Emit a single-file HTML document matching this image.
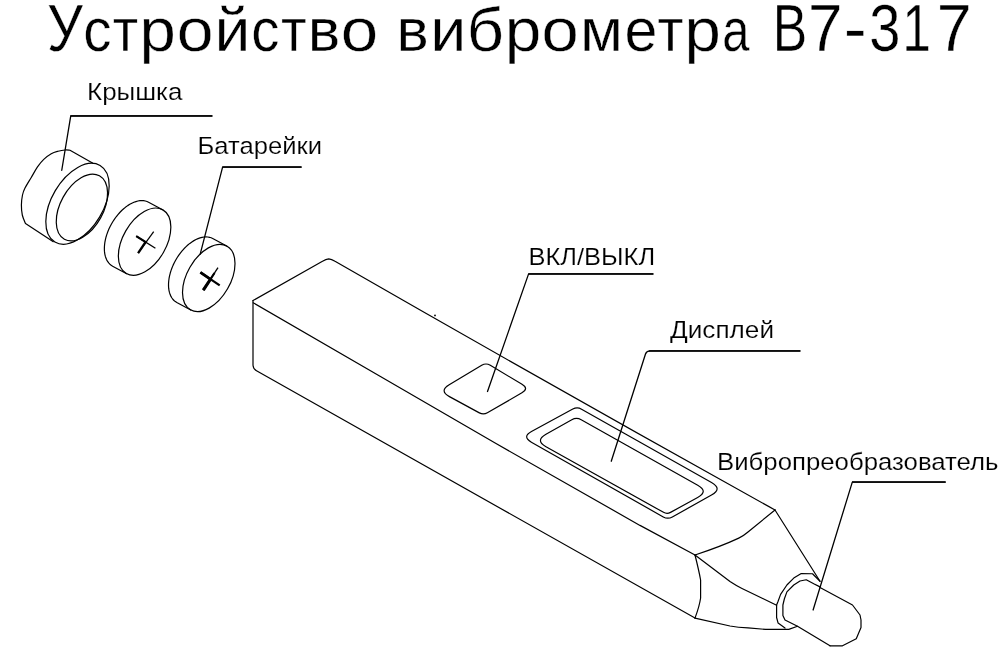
<!DOCTYPE html>
<html lang="ru">
<head>
<meta charset="utf-8">
<title>Устройство виброметра В7-317</title>
<style>
html,body{margin:0;padding:0;background:#fff;}
body{width:1008px;height:672px;overflow:hidden;font-family:"Liberation Sans",sans-serif;}
svg{display:block;will-change:transform;}
svg text{font-family:"Liberation Sans",sans-serif;fill:#000;}
</style>
</head>
<body>
<svg width="1008" height="672" viewBox="0 0 1008 672">
<rect x="0" y="0" width="1008" height="672" fill="#fff"/>
<g fill="none" stroke="#000" stroke-width="1.2" stroke-linecap="round" stroke-linejoin="round">
<!-- lid -->
<ellipse cx="77.50" cy="203.75" rx="44.40" ry="25.80" transform="rotate(-59.40 77.50 203.75)" stroke-width="1.2"/>
<path d="M92.5,163.1 L70,150.25 C69.17,150.21 66.98,149.83 65.00,150.00 C63.02,150.17 60.39,150.62 58.10,151.25 C55.81,151.88 53.64,152.39 51.25,153.75 C48.86,155.11 46.04,157.21 43.75,159.40 C41.46,161.59 39.58,163.88 37.50,166.90 C35.42,169.92 33.33,173.97 31.25,177.50 C29.17,181.03 26.46,185.18 25.00,188.10 C23.54,191.02 23.10,192.18 22.50,195.00 C21.90,197.82 21.43,201.67 21.40,205.00 C21.37,208.33 21.62,211.90 22.30,215.00 C22.98,218.10 24.97,222.17 25.50,223.60 L53.3,241.7"/>
<ellipse cx="81.90" cy="207.50" rx="36.20" ry="21.40" transform="rotate(-61.00 81.90 207.50)" stroke-width="1.2"/>
<!-- battery 1 -->
<ellipse cx="144.60" cy="241.70" rx="36.70" ry="21.70" transform="rotate(-60.10 144.60 241.70)" stroke-width="1.2"/>
<path d="M126.64,273.70 L112.64,266.20 L111.20,265.30 L109.87,264.20 L108.67,262.93 L107.61,261.47 L106.69,259.84 L105.91,258.06 L105.29,256.13 L104.83,254.07 L104.52,251.88 L104.37,249.58 L104.39,247.19 L104.57,244.72 L104.90,242.18 L105.40,239.60 L106.05,236.98 L106.85,234.34 L107.80,231.70 L108.89,229.08 L110.12,226.49 L111.47,223.95 L112.93,221.47 L114.51,219.07 L116.19,216.76 L117.95,214.56 L119.79,212.48 L121.70,210.54 L123.67,208.74 L125.68,207.10 L127.71,205.62 L129.77,204.32 L131.83,203.21 L133.88,202.28 L135.91,201.56 L137.91,201.03 L139.87,200.71 L141.77,200.60 L143.59,200.69 L145.34,200.99 L147.00,201.49 L148.56,202.20 L162.56,209.70" stroke-width="1.2"/>
<g stroke-linecap="butt">
<path d="M153.7,231.6 L138.1,253.1" stroke-width="1.25"/>
<path d="M145.6,242.0 L138.1,253.1" stroke-width="2.3"/>
<path d="M136.2,236.1 L155.4,248.3" stroke-width="1.25"/>
<path d="M136.2,236.1 L146.2,242.4" stroke-width="2.2"/>
</g>
<!-- battery 2 -->
<ellipse cx="208.75" cy="278.00" rx="36.70" ry="21.70" transform="rotate(-60.10 208.75 278.00)" stroke-width="1.2"/>
<path d="M190.79,310.00 L176.79,302.50 L175.35,301.60 L174.02,300.50 L172.82,299.23 L171.76,297.77 L170.84,296.14 L170.06,294.36 L169.44,292.43 L168.98,290.37 L168.67,288.18 L168.52,285.88 L168.54,283.49 L168.72,281.02 L169.05,278.48 L169.55,275.90 L170.20,273.28 L171.00,270.64 L171.95,268.00 L173.04,265.38 L174.27,262.79 L175.62,260.25 L177.08,257.77 L178.66,255.37 L180.34,253.06 L182.10,250.86 L183.94,248.78 L185.85,246.84 L187.82,245.04 L189.83,243.40 L191.86,241.92 L193.92,240.62 L195.98,239.51 L198.03,238.58 L200.06,237.86 L202.06,237.33 L204.02,237.01 L205.92,236.90 L207.74,236.99 L209.49,237.29 L211.15,237.79 L212.71,238.50 L226.71,246.00" stroke-width="1.2"/>
<g stroke-linecap="butt">
<path d="M218,267.6 L203.3,290.2" stroke-width="1.3"/>
<path d="M214.5,273 L203.3,290.2" stroke-width="2.2"/>
<path d="M210.6,279 L203.3,290.2" stroke-width="3.1"/>
<path d="M200.4,272.4 L219.7,285.4" stroke-width="2.3"/>
<path d="M200.4,272.4 L211,279.6" stroke-width="2.8"/>
</g>
<!-- body -->
<path d="M253,300.6 L322.5,261.3 Q326,259 328.75,258.8 Q331.5,259 335,261.2 Q555,387.6 775,510"/>
<path d="M253.2,302.8 L380,376.3 L496,443.6 L640,525.4 L695,555"/>
<path d="M253,300.6 L253,365.3 Q253.3,369 256.5,370.8 L695,618.1"/>
<path d="M695,555 Q722,546 738.75,538.1 Q744,535.5 748,532 L775,510"/>
<path d="M695,555 Q699,571 700.6,580 L700.6,598 Q699.5,606 695,618.1"/>
<path d="M775,510 L820,581.25"/>
<path d="M695,555 L730,581.5 Q736,585.5 742,588.5 L776.6,605.25"/>
<path d="M695,618.1 L730,626 Q738,627.6 748,627.9 L765.6,629.4 L788.75,629.4 L797.5,626.25"/>
<circle cx="435" cy="315.4" r="0.9" fill="#000" stroke="none"/>
<!-- button -->
<path d="M449.44,396.63 Q438.90,390.90 449.20,384.74 L481.71,365.27 Q486.00,362.70 490.29,365.27 L522.00,384.28 Q529.20,388.60 521.93,392.81 L487.38,412.80 Q483.40,415.10 479.36,412.90 Z"/>
<!-- display -->
<path d="M531.38,442.17 Q521.90,436.80 531.47,431.59 L572.81,409.09 Q577.20,406.70 581.55,409.16 L711.51,482.46 Q722.75,488.80 711.49,495.09 L672.34,516.96 Q667.80,519.50 663.28,516.94 Z"/>
<path d="M545.99,446.69 Q534.90,440.50 545.97,434.28 L571.79,419.79 Q576.50,417.15 581.21,419.79 L697.72,485.18 Q708.80,491.40 697.66,497.50 L670.51,512.38 Q667.00,514.30 663.51,512.35 Z"/>
<!-- probe -->
<path d="M820,581.25 L812.5,573.75 L801.25,573.5 L793.75,578.1 L786.9,585 L780.6,594.4 L778.1,601.25 L776.6,605 L776.6,617.5 L778.1,623.1 L785,628.1"/>
<path d="M820,586.9 L813.75,583.75 L806.25,579.75 L800,581 L793.75,585 L786.9,591.9 L784.4,598.75 L782.9,605 L782.9,615.6 L785,620 L797.5,626.25 L830,645.8"/>
<path d="M820,587.5 L852.5,605 L860,615 L861,620 L861,627.5 L856.25,638.75 L842.5,645.8 L830,645.8"/>
<!-- leaders -->
<g stroke-width="1.3">
<path d="M212,115.9 L70.75,115.9 L61.75,170.25"/>
<path d="M301.2,167.1 L222.6,167.1 L200.2,254.2"/>
<path d="M653,273.9 L528.6,273.9 L487.5,391.5"/>
<path d="M800,350.9 L650,350.9 Q646.5,350.9 645.5,354 L611.25,461.25"/>
<path d="M945.3,482.1 L852.3,482.1 L813.1,610"/>
</g>
<g stroke-width="1.5" stroke-linecap="butt">
<path d="M212.3,115.9 L70.4,115.9"/>
<path d="M301.5,167.1 L222.3,167.1"/>
<path d="M653.3,273.9 L528.3,273.9"/>
<path d="M800.3,350.9 L649,350.9"/>
<path d="M945.6,482.1 L852,482.1"/>
</g>
</g>
<g>
<g>
<text transform="translate(46.98,51.05) scale(0.855,1)" font-size="65.99" stroke="#fff" stroke-width="0.4">У</text>
<text transform="translate(83.20,51.05) scale(0.927,1)" font-size="61.04" stroke="#fff" stroke-width="0.4">с</text>
<text transform="translate(112.80,51.05) scale(0.908,1)" font-size="61.04" stroke="#fff" stroke-width="0.4">т</text>
<text transform="translate(139.54,51.05) scale(1.069,1)" font-size="61.04" stroke="#fff" stroke-width="0.4">р</text>
<text transform="translate(176.63,51.05) scale(1.082,1)" font-size="61.04" stroke="#fff" stroke-width="0.4">о</text>
<text transform="translate(214.54,51.05) scale(1.053,1)" font-size="61.04" stroke="#fff" stroke-width="0.4">й</text>
<text transform="translate(251.35,51.05) scale(0.925,1)" font-size="61.04" stroke="#fff" stroke-width="0.4">с</text>
<text transform="translate(280.94,51.05) scale(0.916,1)" font-size="61.04" stroke="#fff" stroke-width="0.4">т</text>
<text transform="translate(307.66,51.05) scale(1.002,1)" font-size="61.04" stroke="#fff" stroke-width="0.4">в</text>
<text transform="translate(340.68,51.05) scale(1.102,1)" font-size="61.04" stroke="#fff" stroke-width="0.4">о</text>
</g>
<g>
<text transform="translate(396.39,51.05) scale(0.994,1)" font-size="61.04" stroke="#fff" stroke-width="0.4">в</text>
<text transform="translate(430.27,51.05) scale(1.059,1)" font-size="61.04" stroke="#fff" stroke-width="0.4">и</text>
<text transform="translate(466.80,51.05) scale(1.063,1)" font-size="61.04" stroke="#fff" stroke-width="0.4">б</text>
<text transform="translate(504.77,51.05) scale(1.075,1)" font-size="61.04" stroke="#fff" stroke-width="0.4">р</text>
<text transform="translate(541.59,51.05) scale(1.096,1)" font-size="61.04" stroke="#fff" stroke-width="0.4">о</text>
<text transform="translate(580.06,51.05) scale(1.024,1)" font-size="61.04" stroke="#fff" stroke-width="0.4">м</text>
<text transform="translate(624.38,51.05) scale(0.972,1)" font-size="61.04" stroke="#fff" stroke-width="0.4">е</text>
<text transform="translate(657.53,51.05) scale(0.928,1)" font-size="61.04" stroke="#fff" stroke-width="0.4">т</text>
<text transform="translate(684.54,51.05) scale(1.069,1)" font-size="61.04" stroke="#fff" stroke-width="0.4">р</text>
<text transform="translate(722.32,51.05) scale(0.800,1)" font-size="61.04" stroke="#fff" stroke-width="0.4">а</text>
</g>
<g>
<text transform="translate(772.66,51.05) scale(0.783,1)" font-size="65.99" stroke="#fff" stroke-width="0.4">В</text>
<text transform="translate(808.08,51.05) scale(0.938,1)" font-size="65.99" stroke="#fff" stroke-width="0.4">7</text>
<text transform="translate(843.83,51.05) scale(1.046,1)" font-size="65.99" stroke="#fff" stroke-width="0.4">-</text>
<text transform="translate(869.36,51.05) scale(0.850,1)" font-size="65.99" stroke="#fff" stroke-width="0.4">3</text>
<text transform="translate(902.28,51.05) scale(0.780,1)" font-size="65.99" stroke="#fff" stroke-width="0.4">1</text>
<text transform="translate(936.79,51.05) scale(0.950,1)" font-size="65.99" stroke="#fff" stroke-width="0.4">7</text>
</g>
<text x="87" y="100.1" font-size="24.5" textLength="95.5" lengthAdjust="spacingAndGlyphs" stroke="#fff" stroke-width="0.15">Крышка</text>
<text x="197.5" y="154.1" font-size="24.5" textLength="124.5" lengthAdjust="spacingAndGlyphs" stroke="#fff" stroke-width="0.15">Батарейки</text>
<text x="528.6" y="264.5" font-size="24.5" textLength="126.5" lengthAdjust="spacingAndGlyphs" stroke="#fff" stroke-width="0.15">ВКЛ/ВЫКЛ</text>
<text x="670" y="338" font-size="24.5" textLength="104" lengthAdjust="spacingAndGlyphs" stroke="#fff" stroke-width="0.15">Дисплей</text>
<text x="717" y="469.5" font-size="24.5" textLength="281.5" lengthAdjust="spacingAndGlyphs" stroke="#fff" stroke-width="0.15">Вибропреобразователь</text>
</g>
</svg>
</body>
</html>
